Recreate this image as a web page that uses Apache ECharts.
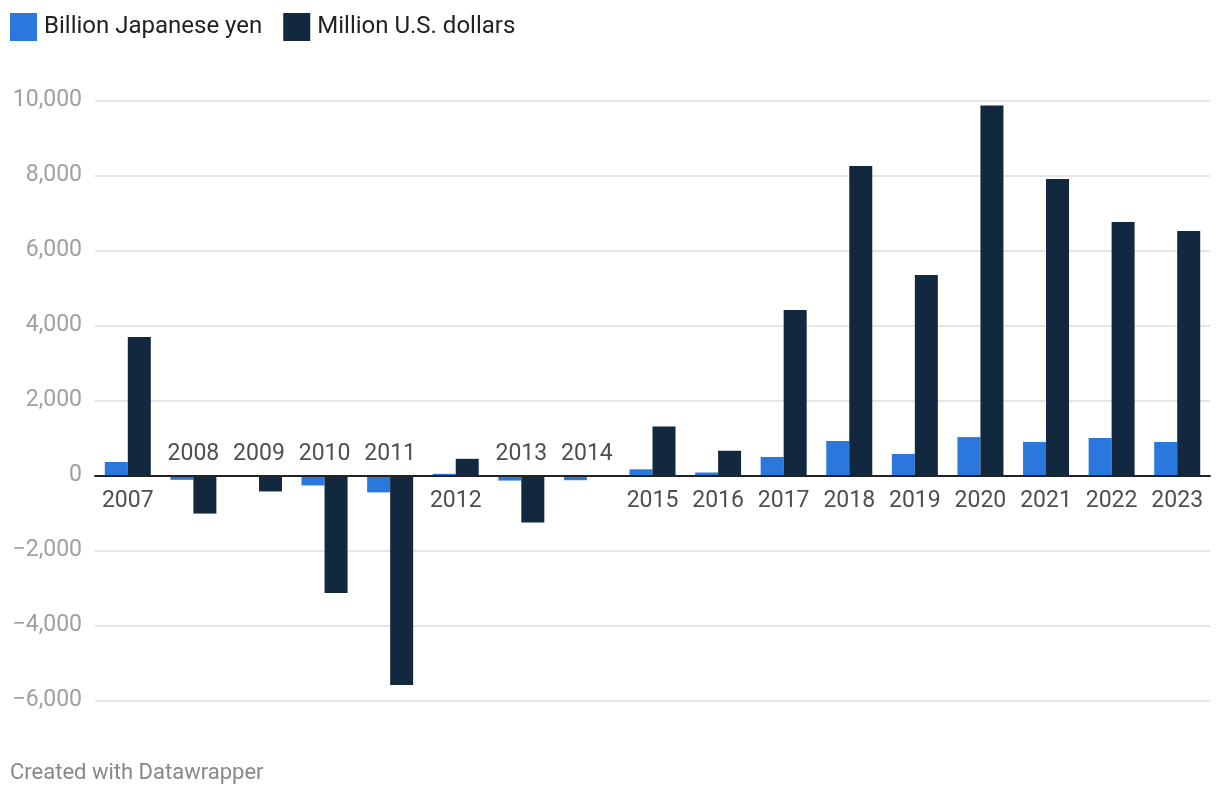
<!DOCTYPE html>
<html>
<head>
<meta charset="utf-8">
<script src="https://cdn.jsdelivr.net/npm/echarts@6/dist/echarts.min.js"></script>
<style>
html,body{margin:0;padding:0;background:#fff;}
#chart{width:1220px;height:798px;}
</style>
</head>
<body>
<div id="chart"></div>
<script>
const years = ['2007','2008','2009','2010','2011','2012','2013','2014','2015','2016','2017','2018','2019','2020','2021','2022','2023'];
const yenBillion = [365, -110, -10, -260, -445, 50, -130, -120, 170, 85, 500, 925, 580, 1030, 900, 1005, 900];
const usdMillion = [3700, -1010, -420, -3130, -5580, 450, -1250, 0, 1310, 665, 4420, 8260, 5350, 9870, 7910, 6765, 6525];
const seriesNames = ['Billion Japanese yen', 'Million U.S. dollars'];
const yTicks = [-6000, -4000, -2000, 0, 2000, 4000, 6000, 8000, 10000];

const FONT = 'Roboto, "Noto Sans", sans-serif';
const chart = echarts.init(document.getElementById('chart'));

function fmt(v){
  const s = Math.abs(v).toString().replace(/\B(?=(\d{3})+(?!\d))/g, ',');
  return (v < 0 ? '\u2212' : '') + s;
}

const labelData = years.map((y, i) => {
  const above = Math.max(yenBillion[i], usdMillion[i]) <= 0;
  return {
    value: 0,
    name: y,
    label: { position: above ? 'top' : 'bottom', distance: above ? 10 : 14 }
  };
});

chart.setOption({
  animation: false,
  textStyle: { fontFamily: FONT },
  legend: {
    left: 5, top: 8,
    itemWidth: 27, itemHeight: 28, itemGap: 21,
    icon: 'rect',
    data: seriesNames,
    textStyle: { fontSize: 24, color: '#222', fontFamily: FONT, padding: [0,0,0,2] }
  },
  grid: { left: 95, right: 10, top: 100.7, bottom: 97.3, containLabel: false },
  xAxis: {
    type: 'category',
    data: years,
    axisLine: { onZero: true, lineStyle: { color: '#222', width: 2 } },
    axisTick: { show: false },
    axisLabel: { show: false },
    splitLine: { show: false },
    z: 10
  },
  yAxis: {
    type: 'value',
    min: yTicks[0], max: yTicks[yTicks.length - 1], interval: 2000,
    axisLine: { show: false },
    axisTick: { show: false },
    axisLabel: {
      fontSize: 23, color: '#a0a0a0', margin: 13, fontFamily: FONT,
      formatter: v => fmt(v)
    },
    splitLine: { lineStyle: { color: '#e5e5e5', width: 2 } }
  },
  series: [
    {
      name: seriesNames[0], type: 'bar', data: yenBillion,
      barWidth: 23, barGap: '0%',
      itemStyle: { color: '#2a77dd' }
    },
    {
      name: seriesNames[1], type: 'bar', data: usdMillion,
      barWidth: 23, barGap: '0%',
      itemStyle: { color: '#12283f' }
    },
    {
      name: 'labels', type: 'scatter', data: labelData,
      symbolSize: 0, silent: true, z: 20,
      label: {
        show: true, fontSize: 23, color: '#222', fontFamily: FONT,
        formatter: p => p.name
      }
    }
  ],
  graphic: [{
    type: 'text', left: 10, top: 762,
    style: { text: 'Created with Datawrapper', fontSize: 22, fill: '#888', fontFamily: FONT }
  }]
});
</script>
</body>
</html>
